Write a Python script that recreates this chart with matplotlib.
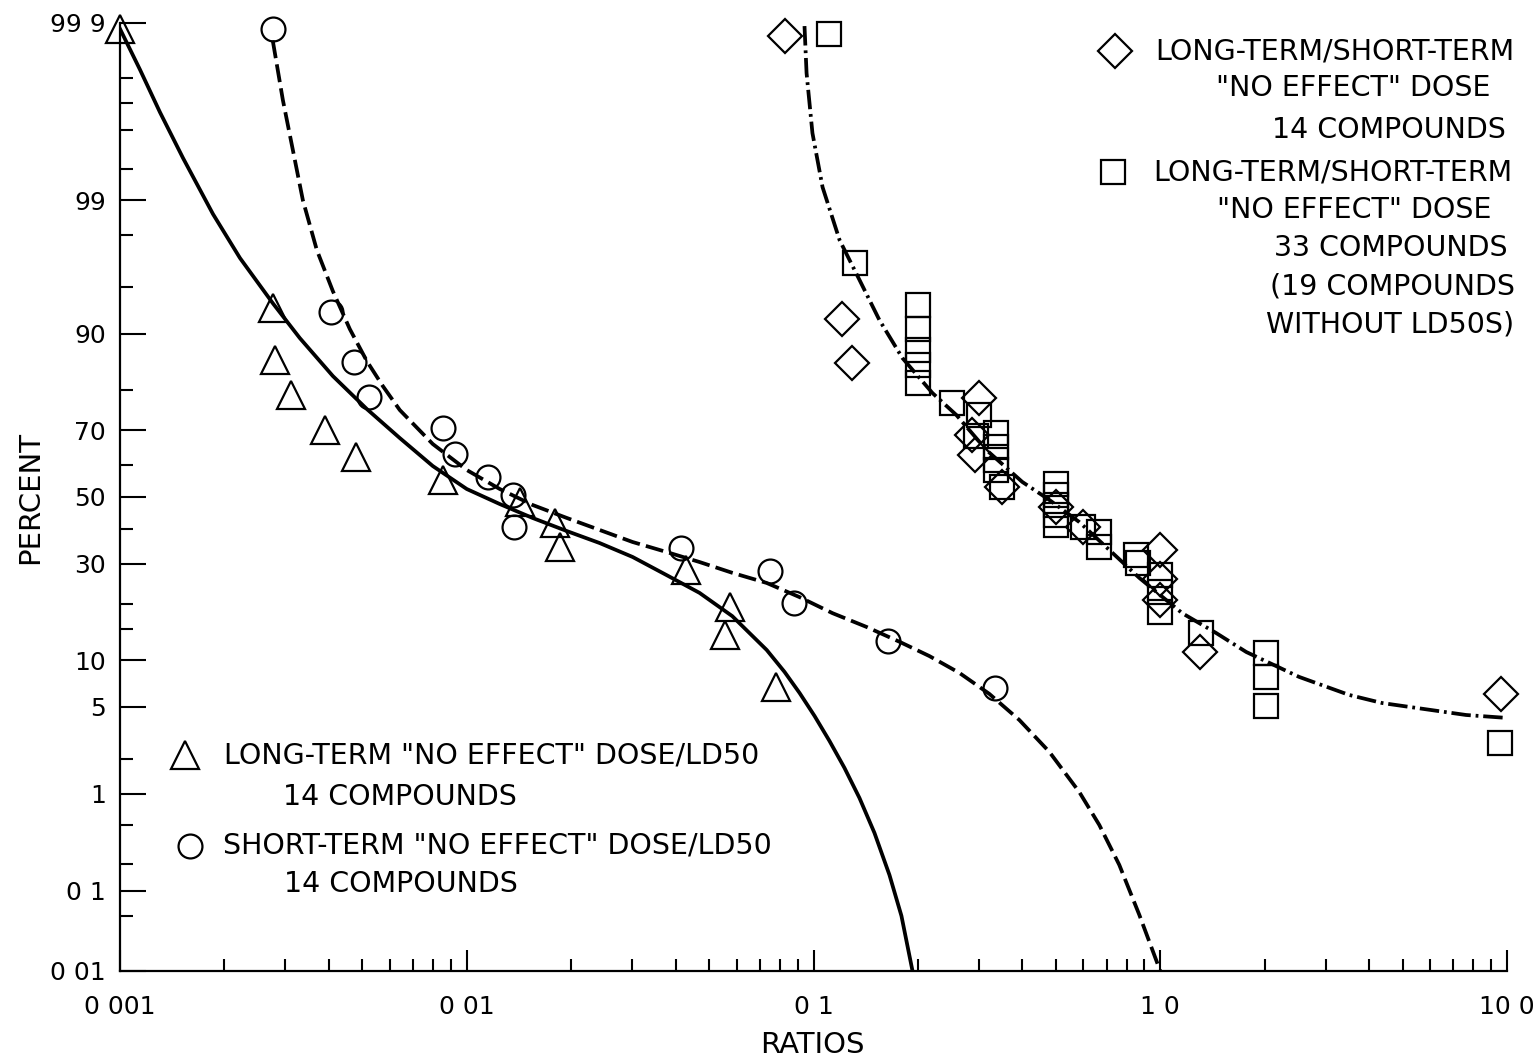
import matplotlib
matplotlib.use("Agg")
import matplotlib.pyplot as plt
from matplotlib.lines import Line2D
from matplotlib.ticker import FixedLocator, FixedFormatter, LogLocator, NullFormatter
import numpy as np
from statistics import NormalDist

# ratios (x) and cumulative percent (y)
tri_x = [0.001, 0.00276, 0.0028, 0.00311, 0.0039, 0.00479, 0.00853, 0.01422,
         0.01795, 0.01854, 0.0430, 0.0573, 0.0557, 0.0777]
tri_y = [99.988, 93.1, 85.9, 78.8, 70.0, 62.3, 55.3, 48.4, 41.9, 34.8, 28.3,
         19.4, 14.0, 6.8]

circ_x = [0.00276, 0.00405, 0.00472, 0.00522, 0.00853, 0.00923, 0.0115, 0.01358,
          0.01366, 0.0414, 0.0747, 0.0876, 0.1645, 0.333]
circ_y = [99.988, 92.7, 85.5, 78.4, 70.6, 63.2, 56.2, 50.6, 40.7, 34.5, 28.1,
          20.3, 12.9, 6.7]

diam_x = [0.0825, 0.121, 0.1295, 0.30, 0.287, 0.293, 0.35, 0.5, 0.6, 1.0, 1.0,
          1.0, 1.3, 9.6]
diam_y = [99.985, 91.9, 85.3, 78.1, 68.6, 62.9, 53.0, 47.0, 40.7, 33.9, 26.0,
          21.0, 11.2, 6.1]

sq_x = [0.111, 0.1313, 0.2, 0.2, 0.2, 0.2, 0.2, 0.251, 0.30, 0.295, 0.335,
        0.335, 0.335, 0.335, 0.35, 0.5, 0.5, 0.5, 0.5, 0.5, 0.6, 0.667, 0.667,
        0.85, 0.86, 1.0, 1.0, 1.0, 1.31, 2.02, 2.02, 2.02, 9.55]
sq_y = [99.986, 96.7, 93.4, 90.6, 87.6, 85.0, 81.4, 76.9, 74.0, 68.5, 69.2,
        65.3, 61.4, 58.4, 53.0, 54.0, 50.6, 47.5, 44.4, 41.3, 40.7, 39.2, 34.8,
        32.5, 30.2, 27.0, 22.8, 18.4, 14.3, 11.0, 7.9, 5.05, 2.7]

# hand-drawn fitted curves
solid_x = [0.001, 0.001142, 0.001304, 0.00152, 0.001854, 0.002218, 0.002757,
           0.0033, 0.00411, 0.00515, 0.00641, 0.00798, 0.01, 0.01245, 0.01549,
           0.0194, 0.02416, 0.03008, 0.0377, 0.0469, 0.0583, 0.0733, 0.0825,
           0.0912, 0.1007, 0.1112, 0.1228, 0.1357, 0.1499, 0.1656, 0.1793, 0.193]
solid_y = [99.988, 99.96, 99.873, 99.608, 98.68, 96.96, 93.59, 89.38, 82.87,
           75.5, 67.82, 59.6, 52.5, 47.8, 43.46, 39.5, 35.9, 31.9, 27.0, 22.6,
           17.5, 11.5, 8.5, 6.2, 4.29, 2.78, 1.68, 0.91, 0.42, 0.151, 0.0508, 0.01]

dash_x = [0.002757, 0.002949, 0.003152, 0.003368, 0.003696, 0.00411, 0.0046,
          0.00515, 0.005727, 0.00641, 0.00798, 0.01, 0.01245, 0.01549, 0.0194,
          0.02416, 0.03008, 0.0377, 0.0469, 0.0583, 0.0733, 0.0912, 0.1135,
          0.1422, 0.177, 0.2159, 0.2634, 0.3214, 0.3923, 0.4786, 0.5843,
          0.6671, 0.7617, 0.87, 1.0]
dash_y = [99.983, 99.908, 99.675, 99.007, 97.36, 94.69, 90.62, 85.69, 80.8,
          75.25, 66.12, 58.39, 52.5, 47.5, 43.5, 39.8, 36.2, 33.3, 30.5, 27.6,
          25.0, 21.6, 18.1, 15.4, 12.8, 10.6, 8.38, 6.12, 4.01, 2.28, 1.03,
          0.504, 0.195, 0.0523, 0.01]

dd_x = [0.0942, 0.0955, 0.0993, 0.1062, 0.1189, 0.1358, 0.1549, 0.1805, 0.2203,
        0.2583, 0.3152, 0.4001, 0.4786, 0.5843, 0.7129, 0.8697, 1.157, 1.449,
        1.77, 2.516, 3.506, 4.363, 5.47, 7.62, 10.0]
dd_y = [99.989, 99.956, 99.785, 99.247, 97.81, 95.56, 91.75, 86.22, 79.27,
        73.99, 64.4, 54.7, 49.1, 42.2, 33.9, 26.3, 18.1, 14.3, 11.2, 7.9,
        6.02, 5.3, 4.9, 4.36, 4.15]

y_major = [0.01, 0.1, 1, 5, 10, 30, 50, 70, 90, 99, 99.99]
y_major_labels = ["0 01", "0 1", "1", "5", "10", "30", "50", "70", "90", "99", "99 9"]
y_minor = [0.05, 0.2, 0.5, 2, 15, 20, 40, 60, 80, 95, 98, 99.5, 99.8, 99.9, 99.95]
x_major = [0.001, 0.01, 0.1, 1, 10]
x_major_labels = ["0 001", "0 01", "0 1", "1 0", "10 0"]

_nd = NormalDist()
_ppf = np.vectorize(_nd.inv_cdf, otypes=[float])
_cdf = np.vectorize(_nd.cdf, otypes=[float])


def probit(p):
    p = np.clip(np.asarray(p, dtype=float), 1e-7, 100 - 1e-7)
    return _ppf(p / 100.0)


def inv_probit(z):
    return _cdf(np.asarray(z, dtype=float)) * 100.0


plt.rcParams['font.family'] = ['DejaVu Sans']
plt.rcParams['lines.scale_dashes'] = False

W, H = 1539, 1059
fig = plt.figure(figsize=(W / 100, H / 100), dpi=100)
ax = fig.add_axes([120 / W, 1 - 971 / H, (1507 - 120) / W, (971 - 23) / H])
ax.set_xscale('log')
ax.set_yscale('function', functions=(probit, inv_probit))
ax.set_xlim(0.001, 10)
ax.set_ylim(0.01, 99.99)

lw = 2.7
ax.plot(solid_x, solid_y, color='black', lw=lw, solid_joinstyle='round')
ax.plot(dash_x, dash_y, color='black', lw=lw, dashes=(13, 4.5))
ax.plot(dd_x, dd_y, color='black', lw=lw, dashes=(14, 3.5, 2, 3.5))

mk = dict(linestyle='none', mfc='none', mec='black', mew=1.6, clip_on=False)
ax.plot(tri_x, tri_y, marker='^', ms=19.5, **mk)
ax.plot(circ_x, circ_y, marker='o', ms=17.2, **mk)
ax.plot(diam_x, diam_y, marker='D', ms=17.5, **mk)
ax.plot(sq_x, sq_y, marker='s', ms=17.8, **mk)

for side in ('top', 'right'):
    ax.spines[side].set_visible(False)
for side in ('left', 'bottom'):
    ax.spines[side].set_linewidth(1.6)

ax.yaxis.set_major_locator(FixedLocator(y_major))
ax.yaxis.set_major_formatter(FixedFormatter(y_major_labels))
ax.yaxis.set_minor_locator(FixedLocator(y_minor))
ax.yaxis.set_minor_formatter(NullFormatter())
ax.xaxis.set_major_locator(FixedLocator(x_major))
ax.xaxis.set_major_formatter(FixedFormatter(x_major_labels))
ax.xaxis.set_minor_locator(LogLocator(base=10, subs=np.arange(2, 10)))
ax.xaxis.set_minor_formatter(NullFormatter())

ax.tick_params(axis='y', which='major', direction='in', length=19, width=1.5,
               pad=10, labelsize=18)
ax.tick_params(axis='y', which='minor', direction='in', length=9.5, width=1.5)
ax.tick_params(axis='x', which='major', direction='in', length=15, width=1.5,
               pad=17, labelsize=18)
ax.tick_params(axis='x', which='minor', direction='in', length=8.5, width=1.5)

fig.text(30 / W, 1 - 497 / H, "PERCENT", rotation=90, ha='center', va='center',
         fontsize=21)
fig.text(812 / W, 1 - 1045 / H, "RATIOS", ha='center', va='center', fontsize=21)


def ftext(x, y, s):
    fig.text(x / W, 1 - y / H, s, ha='center', va='center', fontsize=20.5)


def fmark(x, y, marker, ms):
    fig.add_artist(Line2D([x / W], [1 - y / H], transform=fig.transFigure,
                          marker=marker, ms=ms, mfc='none', mec='black', mew=1.6))


# lower-left key
fmark(185, 755, '^', 19.5)
ftext(492, 755, 'LONG-TERM "NO EFFECT" DOSE/LD50')
ftext(400, 797, '14 COMPOUNDS')
fmark(190, 846, 'o', 17.2)
ftext(497, 846, 'SHORT-TERM "NO EFFECT" DOSE/LD50')
ftext(401, 884, '14 COMPOUNDS')

# upper-right key
fmark(1115, 51, 'D', 17.5)
ftext(1335, 51, 'LONG-TERM/SHORT-TERM')
ftext(1353, 88, '"NO EFFECT" DOSE')
ftext(1389, 130, '14 COMPOUNDS')
fmark(1113, 172, 's', 17.8)
ftext(1333, 172, 'LONG-TERM/SHORT-TERM')
ftext(1354, 210, '"NO EFFECT" DOSE')
ftext(1391, 248, '33 COMPOUNDS')
ftext(1392, 287, '(19 COMPOUNDS')
ftext(1390, 325, 'WITHOUT LD50S)')

fig.savefig("out.png", dpi=100)
